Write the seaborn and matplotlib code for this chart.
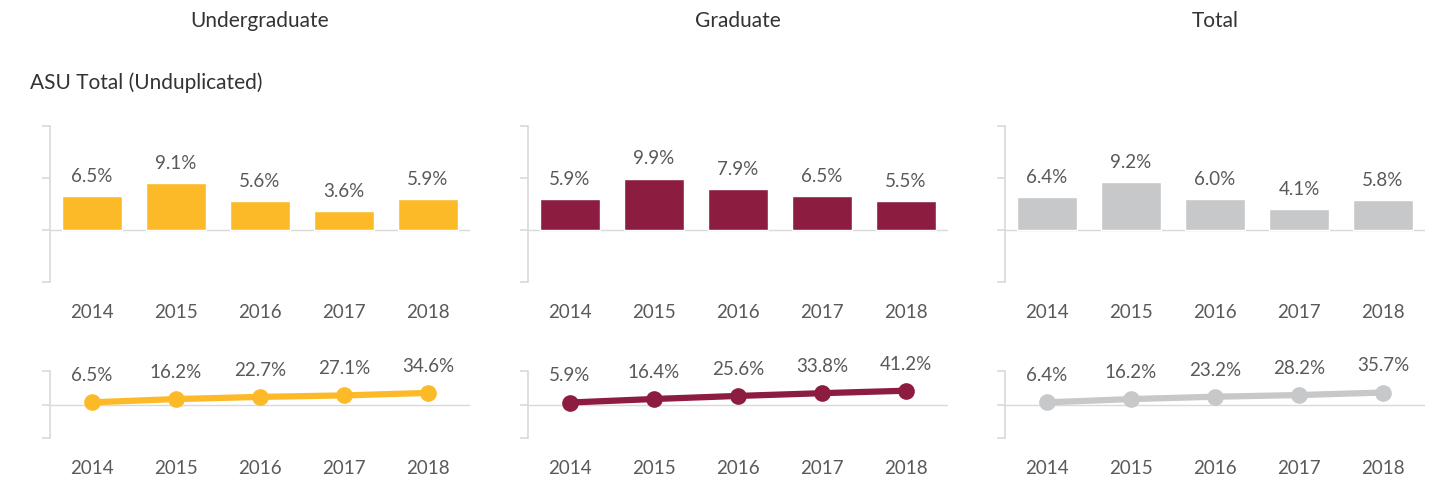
import numpy as np
import pandas as pd
import matplotlib
matplotlib.use("Agg")
import matplotlib.pyplot as plt
import seaborn as sns

# Data
years = ["2014", "2015", "2016", "2017", "2018"]
groups = ["Undergraduate", "Graduate", "Total"]
colors = ["#FDBA28", "#8C1D40", "#C7C8CA"]

# year-over-year change
yoy_undergrad = [6.5, 9.1, 5.6, 3.6, 5.9]
yoy_grad = [5.9, 9.9, 7.9, 6.5, 5.5]
yoy_total = [6.4, 9.2, 6.0, 4.1, 5.8]

# cumulative change since base year
cum_undergrad = [6.5, 16.2, 22.7, 27.1, 34.6]
cum_grad = [5.9, 16.4, 25.6, 33.8, 41.2]
cum_total = [6.4, 16.2, 23.2, 28.2, 35.7]

yoy = [yoy_undergrad, yoy_grad, yoy_total]
cum = [cum_undergrad, cum_grad, cum_total]

sns.set_theme(style="white")
plt.rcParams["font.family"] = ["Lato", "DejaVu Sans"]

W, H = 1444, 482
fig = plt.figure(figsize=(W / 100, H / 100), dpi=100)

label_color = "#595959"
axis_color = "#D9D9D9"
lefts = [50, 528, 1005]
width = 420


def px_axes(x0, y_top, w, h):
    return fig.add_axes([x0 / W, (H - y_top - h) / H, w / W, h / H])


def style_axes(ax, lim, ticks):
    ax.set_ylim(*lim)
    ax.set_xlim(-0.5, 4.5)
    ax.set_yticks(ticks)
    ax.set_yticklabels([])
    ax.set_ylabel("")
    ax.set_xlabel("")
    for s in ["top", "right", "bottom"]:
        ax.spines[s].set_visible(False)
    ax.spines["left"].set_color(axis_color)
    ax.spines["left"].set_linewidth(1.2)
    ax.tick_params(axis="y", length=6, width=1.2, color=axis_color, left=True)
    ax.tick_params(axis="x", length=0, pad=16, labelsize=13.5, labelcolor=label_color)
    ax.axhline(0, color=axis_color, lw=1, zorder=0)


for i, g in enumerate(groups):
    # bar panel
    ax = px_axes(lefts[i], 126, width, 156)
    df = pd.DataFrame({"year": years, "pct": [v / 100 for v in yoy[i]]})
    sns.barplot(data=df, x="year", y="pct", color=colors[i], width=0.72,
                saturation=1, ax=ax)
    style_axes(ax, (-0.1, 0.2), [-0.1, 0, 0.1, 0.2])
    for x, v in enumerate(yoy[i]):
        ax.annotate(f"{v:.1f}%", (x, v / 100), xytext=(0, 8), textcoords="offset points",
                    ha="center", va="bottom", fontsize=13.5, color=label_color)

    # cumulative line panel
    ax2 = px_axes(lefts[i], 371, width, 67)
    dfl = pd.DataFrame({"year": years, "pct": [v / 100 for v in cum[i]]})
    sns.lineplot(data=dfl, x="year", y="pct", color=colors[i], lw=4.5,
                 marker="o", markersize=12, markeredgewidth=0, ax=ax2)
    style_axes(ax2, (-1, 1), [-1, 0, 1])
    for x, v in enumerate(cum[i]):
        ax2.annotate(f"{v:.1f}%", (x, v / 100), xytext=(0, 13), textcoords="offset points",
                     ha="center", va="bottom", fontsize=13.5, color=label_color)

    fig.text((lefts[i] + width / 2) / W, 1 - 21 / H, g, ha="center", va="center",
             fontsize=15, color="#333333")

fig.text(30 / W, 1 - 83 / H, "ASU Total (Unduplicated)", ha="left", va="center",
         fontsize=15, color="#333333")

fig.savefig("out.png", dpi=100)
